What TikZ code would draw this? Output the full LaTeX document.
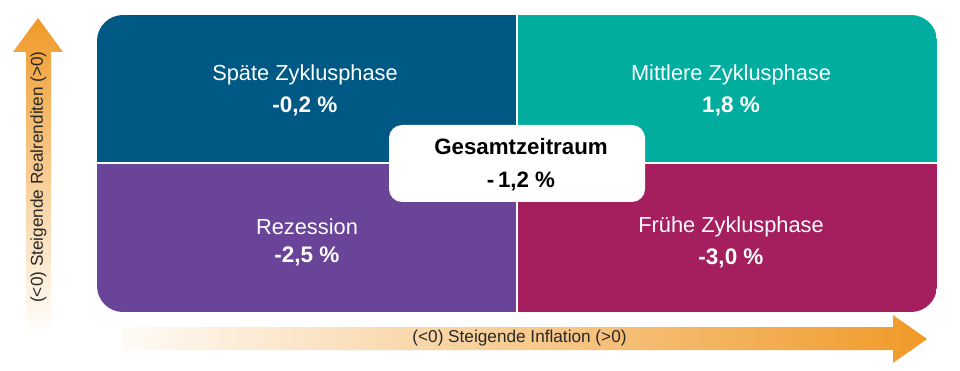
\documentclass[tikz,border=0pt]{standalone}
\usepackage{fontspec}
\setmainfont{Liberation Sans}
\usepackage{tikz}
\usetikzlibrary{positioning}

\definecolor{spaetblau}{RGB}{0,88,133}
\definecolor{mittelgruen}{RGB}{0,173,159}
\definecolor{rezlila}{RGB}{106,68,153}
\definecolor{fruehrot}{RGB}{165,30,93}
\definecolor{pfeilorange}{RGB}{240,154,40}
\definecolor{achsgrau}{RGB}{40,40,40}

\begin{document}
\begin{tikzpicture}[x=1pt,y=-1pt,
    phasetitle/.style={text=white,font=\fontsize{21.8}{26}\selectfont},
    phasewert/.style={text=white,font=\fontsize{22.5}{27}\selectfont\bfseries},
    achstext/.style={text=achsgrau,font=\fontsize{17.2}{20}\selectfont}]
        \useasboundingbox (0,0) rectangle (960,371);

        % 定义四个象限的顶点
        \coordinate (NW) at (97, 15);    % 左上
        \coordinate (NE) at (937, 15);   % 右上
        \coordinate (SW) at (97, 312);   % 左下
        \coordinate (SE) at (937, 312);  % 右下
        \coordinate (M) at (517, 163);   % 中心
        \coordinate (N) at (517, 15);
        \coordinate (S) at (517, 312);
        \coordinate (W) at (97, 163);
        \coordinate (E) at (937, 163);

        % 画四个象限
        \begin{scope}
            \clip[rounded corners=26] (NW) rectangle (SE);
            \fill[spaetblau] (NW) rectangle (M);
            \fill[mittelgruen] (N) rectangle (E);
            \fill[rezlila] (W) rectangle (S);
            \fill[fruehrot] (M) rectangle (SE);
        \end{scope}

        % 分隔线
        \draw[white, line width=2pt] (N) -- (S);
        \draw[white, line width=2pt] (W) -- (E);

        % 象限文字
        \node[phasetitle] (spaet) at (305, 75) {Späte Zyklusphase};
        \node[phasewert, below=5pt of spaet] (spaetwert) {-0,2~\%};
        \node[phasetitle] (mittel) at (731, 75) {Mittlere Zyklusphase};
        \node[phasewert, below=5pt of mittel] (mittelwert) {1,8~\%};
        \node[phasetitle] (rezession) at (307, 227) {Rezession};
        \node[phasewert, below=5pt of rezession] (rezessionwert) {-2,5~\%};
        \node[phasetitle] (frueh) at (731, 227) {Frühe Zyklusphase};
        \node[phasewert, below=5pt of frueh] (fruehwert) {-3,0~\%};

        % 中间的白框
        \node[fill=white, rounded corners=13, minimum width=256pt, minimum height=77pt] (gesamt) at (517, 163.5) {};
        \node[font=\fontsize{22.3}{27}\selectfont\bfseries] (gesamttitel) at (521, 147) {Gesamtzeitraum};
        \node[font=\fontsize{22.3}{27}\selectfont\bfseries] (gesamtwert) at (521, 181) {-\,1,2~\%};

        % 纵轴箭头
        \coordinate (Ytip) at (38, 18);
        \shade[bottom color=white, top color=pfeilorange]
            (26, 333) -- (26, 52) -- (13, 52) -- (Ytip) -- (63, 52) -- (51, 52) -- (51, 333) -- cycle;
        \node[achstext, rotate=90] (ylabel) at (38.5, 177) {(<0) Steigende Realrenditen (>0)};

        % 横轴箭头
        \coordinate (Xtip) at (927, 339);
        \shade[left color=pfeilorange!4, right color=pfeilorange]
            (122, 327) -- (893, 327) -- (893, 315) -- (Xtip) -- (893, 363) -- (893, 350) -- (122, 350) -- cycle;
        \node[achstext] (xlabel) at (519.5, 338.5) {(<0) Steigende Inflation (>0)};
\end{tikzpicture}
\end{document}
